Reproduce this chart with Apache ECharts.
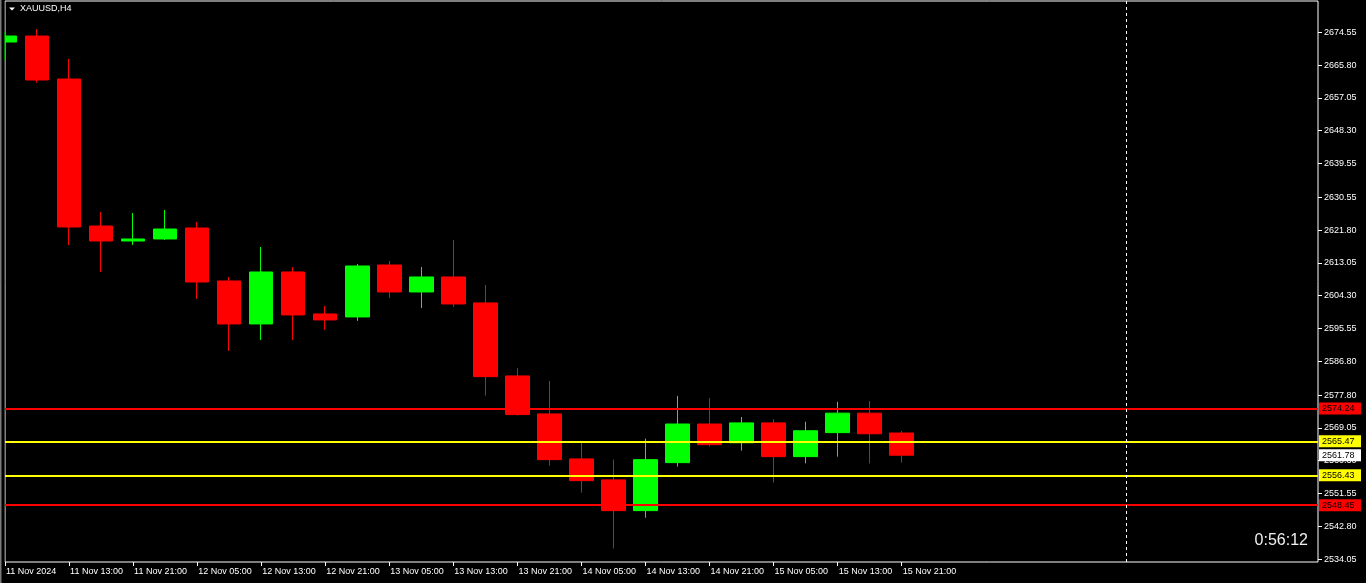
<!DOCTYPE html>
<html>
<head>
<meta charset="utf-8">
<script src="https://cdn.jsdelivr.net/npm/echarts@6.0.0/dist/echarts.min.js"></script>
<style>
html,body{margin:0;padding:0;background:#000;}
#chart{width:1366px;height:583px;}
</style>
</head>
<body>
<div id="chart"></div>
<script>
// ---- data ----
const timeLabels = [
  "11 Nov 2024","11 Nov 09:00","11 Nov 13:00","11 Nov 17:00","11 Nov 21:00",
  "12 Nov 01:00","12 Nov 05:00","12 Nov 09:00","12 Nov 13:00","12 Nov 17:00","12 Nov 21:00",
  "13 Nov 01:00","13 Nov 05:00","13 Nov 09:00","13 Nov 13:00","13 Nov 17:00","13 Nov 21:00",
  "14 Nov 01:00","14 Nov 05:00","14 Nov 09:00","14 Nov 13:00","14 Nov 17:00","14 Nov 21:00",
  "15 Nov 01:00","15 Nov 05:00","15 Nov 09:00","15 Nov 13:00","15 Nov 17:00","15 Nov 21:00"
];
const opens  = [2671.96,2673.56,2662.10,2622.90,2618.90,2619.44,2622.37,2608.24,2596.78,2610.64,2599.45,2598.65,2612.50,2605.31,2609.31,2602.38,2582.92,2572.79,2560.79,2555.20,2547.00,2559.80,2570.10,2565.10,2570.40,2561.40,2567.80,2573.00,2567.70];
const highs  = [2674.63,2675.43,2667.43,2626.64,2626.37,2627.17,2623.97,2609.31,2617.30,2611.97,2601.58,2612.77,2613.57,2611.97,2619.17,2607.18,2585.05,2581.58,2565.60,2560.60,2566.20,2577.60,2577.03,2571.97,2571.40,2570.70,2576.00,2576.24,2568.24];
const lows   = [2667.17,2661.11,2617.84,2610.64,2617.84,2619.17,2603.44,2589.58,2592.51,2592.51,2595.18,2597.58,2603.71,2601.04,2601.31,2577.66,2572.40,2559.00,2551.80,2536.90,2545.10,2558.75,2564.10,2563.00,2554.50,2559.60,2561.40,2559.60,2559.80];
const closes = [2673.56,2661.83,2622.64,2618.90,2619.44,2622.10,2607.97,2596.78,2610.64,2599.18,2597.85,2612.24,2605.31,2609.31,2602.11,2582.73,2572.61,2560.60,2555.00,2547.00,2560.60,2570.10,2564.60,2570.40,2561.40,2568.30,2573.00,2567.50,2561.78];
const priceTicks = [2674.55,2665.80,2657.05,2648.30,2639.55,2630.55,2621.80,2613.05,2604.30,2595.55,2586.80,2577.80,2569.05,2560.30,2551.55,2542.80,2534.05];
const levelValues = [2574.24,2565.47,2556.43,2548.45];
const levelKinds  = ["r","y","y","r"];
const futureSlots = 13;          // empty bars to the right of the last candle
const separatorIndex = 35;       // dashed vertical line slot
const timerText = "0:56:12";
const symbolTitle = "XAUUSD,H4";
// ---- end data ----

const categories = timeLabels.concat(new Array(futureSlots).fill(""));
const candleData = opens.map((o, i) => [o, closes[i], lows[i], highs[i]]);
const lastPrice = closes[closes.length - 1];
const levelColor = {r: "#ff0000", y: "#ffff00"};
const FONT = "Liberation Sans";
const yMin = 2533.3, yMax = 2682.9;
const nCandles = timeLabels.length;

const chart = echarts.init(document.getElementById("chart"), null, {renderer: "canvas"});
chart.setOption({
  backgroundColor: "#000000",
  animation: false,
  grid: {
    left: 5, right: 48, top: 1, bottom: 21,
    show: true, borderColor: "#ffffff", borderWidth: 1,
    containLabel: false, outerBoundsMode: "none"
  },
  xAxis: {
    type: "category",
    data: categories,
    boundaryGap: false,
    axisLine: {show: false},
    axisTick: {
      show: true, length: 4, lineStyle: {color: "#ffffff"},
      interval: (idx) => idx % 2 === 0 && idx < nCandles
    },
    axisLabel: {
      show: true, color: "#ffffff", fontFamily: FONT, fontSize: 9,
      align: "left", margin: 5, padding: [0, 0, 0, 1],
      interval: (idx) => idx % 2 === 0 && idx < nCandles
    },
    splitLine: {show: false}
  },
  yAxis: [
    {
      type: "value", position: "right", min: yMin, max: yMax, scale: true,
      axisLine: {show: false},
      splitLine: {show: false},
      axisTick: {show: true, length: 4, lineStyle: {color: "#ffffff"}, customValues: priceTicks},
      axisLabel: {
        show: true, color: "#ffffff", fontFamily: FONT, fontSize: 9, margin: 6,
        customValues: priceTicks, formatter: (v) => v.toFixed(2)
      }
    },
    {
      type: "value", position: "right", min: yMin, max: yMax, scale: true, z: 5,
      axisLine: {show: false},
      splitLine: {show: false},
      axisTick: {show: false},
      axisLabel: {
        show: true, margin: 1,
        customValues: levelValues.concat([lastPrice]),
        formatter: (v) => {
          const i = levelValues.indexOf(v);
          const k = i >= 0 ? levelKinds[i] : "w";
          return "{" + k + "|" + v.toFixed(2) + "}";
        },
        rich: {
          r: {backgroundColor: "#ff0000", color: "#000000", fontFamily: FONT, fontSize: 9, width: 36, height: 11, lineHeight: 11, padding: [1, 3, 0, 3]},
          y: {backgroundColor: "#ffff00", color: "#000000", fontFamily: FONT, fontSize: 9, width: 36, height: 11, lineHeight: 11, padding: [1, 3, 0, 3]},
          w: {backgroundColor: "#ffffff", color: "#000000", fontFamily: FONT, fontSize: 9, width: 36, height: 11, lineHeight: 11, padding: [1, 3, 0, 3]}
        }
      }
    }
  ],
  series: [
    {
      type: "candlestick",
      data: candleData,
      barWidth: 24,
      clip: true,
      itemStyle: {
        color: "#00ff00", color0: "#ff0000",
        borderColor: "#00ff00", borderColor0: "#ff0000",
        borderWidth: 1
      },
      markLine: {
        silent: true,
        symbol: ["none", "none"],
        label: {show: false},
        animation: false,
        data: levelValues.map((v, i) => ({
          yAxis: v,
          lineStyle: {color: levelColor[levelKinds[i]], width: 2, type: "solid"}
        })).concat([{
          xAxis: separatorIndex,
          lineStyle: {color: "#ffffff", width: 1, type: [3, 3]}
        }])
      }
    }
  ],
  graphic: [
    {
      type: "rect", z: 100, silent: true,
      shape: {x: 0, y: 0, width: 4.5, height: 583},
      style: {fill: "#000000"}
    },
    {
      type: "rect", z: 101, silent: true,
      shape: {x: 0, y: 0, width: 1.5, height: 583},
      style: {fill: "#7a7a7a"}
    },
    {
      type: "polygon", z: 100,
      shape: {points: [[9, 7.5], [15, 7.5], [12, 10.5]]},
      style: {fill: "#ffffff"}
    },
    {
      type: "text", left: 20, top: 4, z: 100,
      style: {text: symbolTitle, fill: "#ffffff", font: "9px " + FONT}
    },
    {
      type: "text", right: 58, top: 533, z: 100,
      style: {text: timerText, fill: "#f0f0f0", font: "16px " + FONT, textAlign: "right"}
    }
  ]
});
</script>
</body>
</html>
